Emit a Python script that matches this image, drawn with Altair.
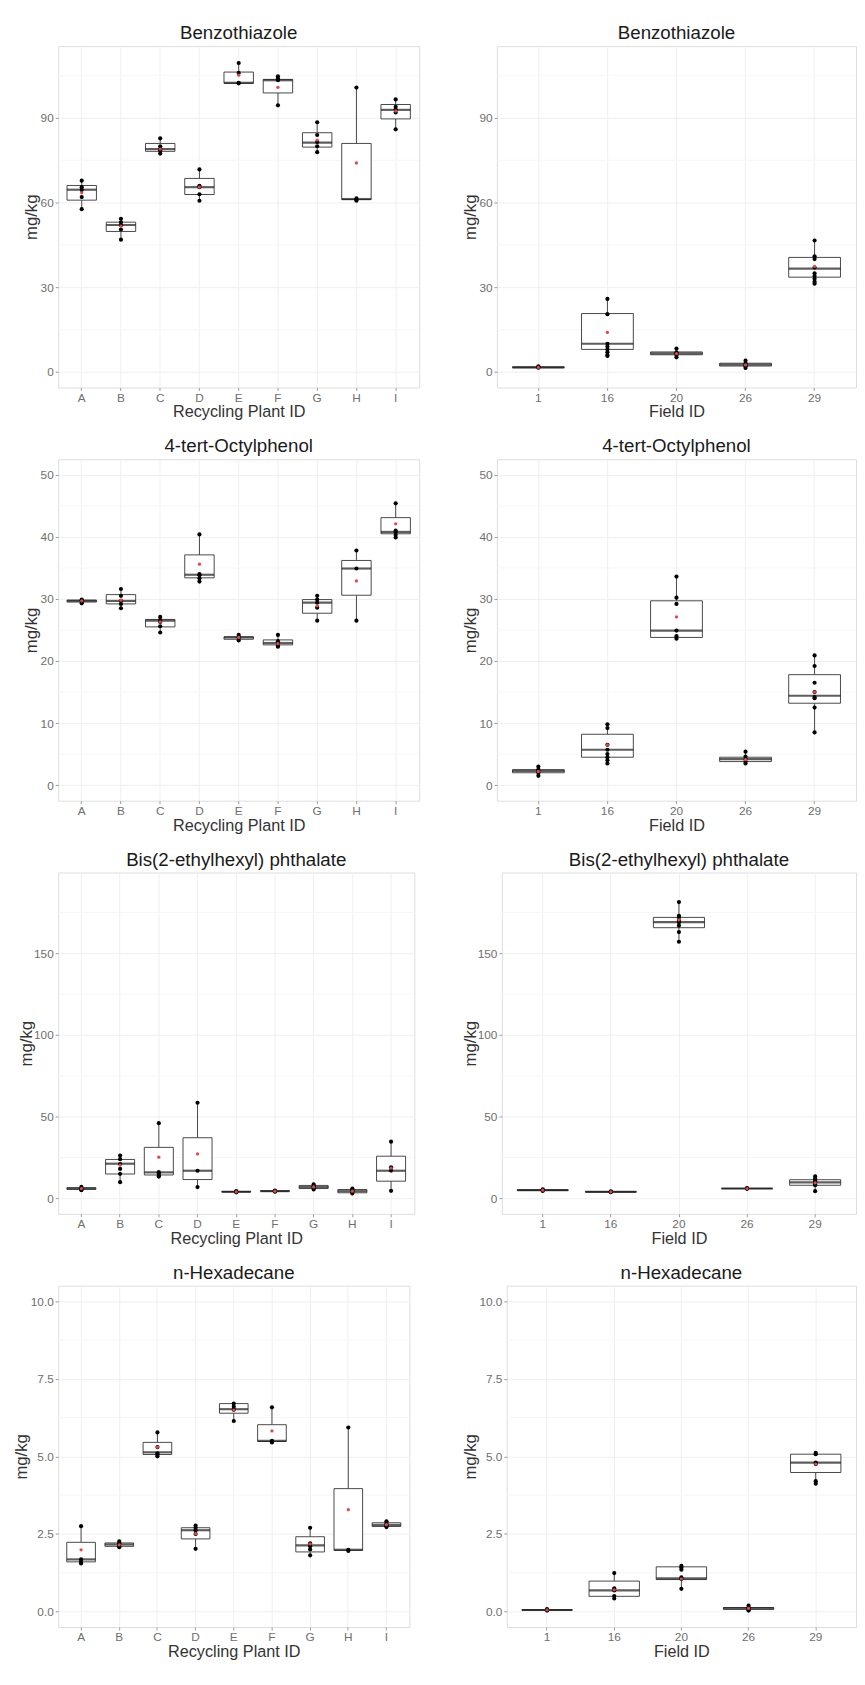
import altair as alt
import pandas as pd

FONT = "Liberation Sans"

plant_ids = ["A", "B", "C", "D", "E", "F", "G", "H", "I"]
field_ids = ["1", "16", "20", "26", "29"]

# ---------------- Benzothiazole ----------------
bt_plant_lo = [57.7, 46.9, 77.4, 60.7, 102.3, 94.5, 77.9, 60.7, 86.0]
bt_plant_q1 = [60.9, 49.8, 78.2, 62.9, 102.3, 98.9, 79.7, 61.1, 89.7]
bt_plant_med = [64.6, 52.1, 79.0, 65.5, 102.5, 103.4, 81.3, 61.3, 92.9]
bt_plant_q3 = [66.1, 53.1, 81.0, 68.6, 106.3, 103.7, 84.8, 81.0, 94.8]
bt_plant_hi = [67.8, 54.3, 82.8, 71.8, 109.5, 104.8, 88.5, 100.8, 96.6]
bt_plant_mean = [63.5, 51.7, 79.0, 65.5, 105.2, 100.9, 82.2, 74.1, 92.5]
bt_plant_pts = [
    [67.8, 65.5, 64.5, 62.0, 57.7],
    [54.3, 53.0, 52.0, 50.5, 46.9],
    [82.8, 80.0, 79.0, 78.5, 77.4],
    [71.8, 66.0, 65.5, 63.0, 60.7],
    [109.5, 106.0, 102.5, 102.3],
    [104.8, 104.0, 103.4, 94.5],
    [88.5, 84.0, 81.5, 80.0, 77.9],
    [100.8, 61.5, 61.0, 60.7],
    [96.6, 94.0, 93.0, 92.0, 86.0],
]
bt_field_lo = [1.4, 5.7, 5.2, 1.4, 31.3]
bt_field_q1 = [1.5, 8.0, 6.1, 2.1, 33.6]
bt_field_med = [1.6, 10.0, 6.6, 2.6, 36.6]
bt_field_q3 = [1.8, 20.7, 7.1, 3.1, 40.6]
bt_field_hi = [2.0, 25.9, 8.3, 4.0, 46.6]
bt_field_mean = [1.6, 14.0, 6.5, 2.5, 37.4]
bt_field_pts = [
    [2.0, 1.7, 1.5],
    [25.9, 20.5, 10.0, 9.0, 8.0, 7.0, 6.0, 5.7],
    [8.3, 7.0, 6.6, 6.0, 5.2],
    [4.0, 3.0, 2.5, 2.0, 1.4],
    [46.6, 41.0, 40.0, 37.0, 35.0, 34.0, 33.0, 32.0, 31.3],
]

# ---------------- 4-tert-Octylphenol ----------------
op_plant_lo = [29.3, 28.5, 24.6, 32.8, 23.3, 22.3, 26.5, 26.5, 39.9]
op_plant_q1 = [29.5, 29.2, 25.5, 33.4, 23.5, 22.6, 27.7, 30.6, 40.5]
op_plant_med = [29.7, 29.7, 26.5, 33.9, 23.8, 22.9, 29.4, 34.9, 40.8]
op_plant_q3 = [29.8, 30.7, 26.7, 37.1, 23.9, 23.4, 29.9, 36.2, 43.1]
op_plant_hi = [29.9, 31.6, 27.1, 40.4, 24.2, 24.2, 30.5, 37.8, 45.4]
op_plant_mean = [29.7, 29.8, 26.3, 35.6, 23.8, 22.8, 28.9, 32.9, 42.1]
op_plant_pts = [
    [29.9, 29.7, 29.5, 29.3],
    [31.6, 30.5, 29.7, 29.2, 28.5],
    [27.1, 26.6, 26.3, 25.6, 24.6],
    [40.4, 34.0, 33.8, 33.3, 32.8],
    [24.2, 23.9, 23.7, 23.3],
    [24.2, 23.2, 22.9, 22.5, 22.3],
    [30.5, 29.9, 29.4, 28.6, 26.5],
    [37.8, 34.9, 26.5],
    [45.4, 41.0, 40.8, 40.3, 39.9],
]
op_field_lo = [1.5, 3.5, 23.6, 3.5, 8.5]
op_field_q1 = [2.0, 4.5, 23.8, 3.8, 13.2]
op_field_med = [2.3, 5.7, 24.9, 4.2, 14.4]
op_field_q3 = [2.5, 8.2, 29.7, 4.5, 17.8]
op_field_hi = [3.0, 9.8, 33.6, 5.4, 20.9]
op_field_mean = [2.2, 6.5, 27.1, 4.1, 15.0]
op_field_pts = [
    [3.0, 2.5, 2.3, 2.0, 1.5],
    [9.8, 9.2, 6.5, 5.7, 5.0, 4.5, 4.0, 3.5],
    [33.6, 30.2, 29.2, 24.9, 24.0, 23.6],
    [5.4, 4.6, 4.2, 3.8, 3.5],
    [20.9, 19.2, 16.5, 15.0, 14.2, 14.0, 12.5, 8.5],
]

# ---------------- Bis(2-ethylhexyl) phthalate ----------------
dehp_plant_lo = [5.0, 9.9, 13.3, 6.9, 3.7, 4.1, 5.4, 3.0, 4.6]
dehp_plant_q1 = [5.5, 14.9, 14.3, 11.5, 3.9, 4.3, 6.0, 3.4, 10.5]
dehp_plant_med = [6.0, 21.2, 15.9, 16.9, 4.0, 4.4, 6.9, 4.4, 16.9]
dehp_plant_q3 = [6.5, 23.8, 31.2, 37.1, 4.2, 4.6, 7.9, 5.4, 25.8]
dehp_plant_hi = [7.0, 26.2, 46.0, 58.5, 4.5, 4.8, 8.5, 6.0, 34.7]
dehp_plant_mean = [6.0, 20.4, 25.2, 27.2, 4.0, 4.4, 7.0, 4.4, 18.5]
dehp_plant_pts = [
    [7.0, 6.0, 5.5, 5.0],
    [26.2, 24.0, 21.0, 18.0, 15.0, 9.9],
    [46.0, 16.0, 15.0, 14.0, 13.3],
    [58.5, 16.9, 6.9],
    [4.5, 4.0, 3.7],
    [4.8, 4.4, 4.1],
    [8.5, 7.5, 7.0, 6.5, 5.4],
    [6.0, 5.0, 4.4, 4.0, 3.0],
    [34.7, 19.0, 17.0, 4.6],
]
dehp_field_lo = [4.5, 3.8, 157.1, 5.8, 4.4]
dehp_field_q1 = [4.8, 3.9, 165.7, 5.9, 8.0]
dehp_field_med = [5.0, 4.0, 169.1, 6.0, 9.8]
dehp_field_q3 = [5.2, 4.1, 172.0, 6.1, 11.4]
dehp_field_hi = [5.5, 4.3, 181.4, 6.3, 13.4]
dehp_field_mean = [5.0, 4.0, 170.5, 6.0, 9.5]
dehp_field_pts = [
    [5.5, 5.0, 4.5],
    [4.3, 4.0, 3.8],
    [181.4, 173.0, 172.0, 170.0, 169.0, 167.0, 163.0, 157.1],
    [6.3, 6.0, 5.8],
    [13.4, 12.0, 11.0, 10.0, 9.5, 8.5, 8.0, 4.4],
]

# ---------------- n-Hexadecane ----------------
hx_plant_lo = [1.55, 2.07, 5.00, 2.02, 6.14, 5.45, 1.81, 1.95, 2.72]
hx_plant_q1 = [1.60, 2.10, 5.06, 2.34, 6.39, 5.48, 1.92, 1.97, 2.74]
hx_plant_med = [1.68, 2.16, 5.13, 2.62, 6.52, 5.50, 2.13, 1.99, 2.79]
hx_plant_q3 = [2.23, 2.21, 5.45, 2.70, 6.70, 6.02, 2.41, 3.96, 2.86]
hx_plant_hi = [2.75, 2.26, 5.77, 2.77, 6.70, 6.58, 2.70, 5.93, 2.91]
hx_plant_mean = [1.99, 2.15, 5.30, 2.51, 6.49, 5.82, 2.18, 3.28, 2.80]
hx_plant_pts = [
    [2.75, 1.68, 1.60, 1.55],
    [2.26, 2.20, 2.15, 2.10, 2.07],
    [5.77, 5.30, 5.10, 5.05, 5.00],
    [2.77, 2.70, 2.62, 2.50, 2.02],
    [6.70, 6.60, 6.50, 6.14],
    [6.58, 5.50, 5.45],
    [2.70, 2.20, 2.10, 2.00, 1.81],
    [5.93, 1.99, 1.95],
    [2.91, 2.85, 2.80, 2.75, 2.72],
]
hx_field_lo = [0.03, 0.42, 0.73, 0.03, 4.12]
hx_field_q1 = [0.04, 0.49, 1.03, 0.07, 4.48]
hx_field_med = [0.05, 0.68, 1.07, 0.10, 4.80]
hx_field_q3 = [0.06, 0.98, 1.44, 0.13, 5.07]
hx_field_hi = [0.08, 1.24, 1.47, 0.19, 5.11]
hx_field_mean = [0.05, 0.70, 1.05, 0.10, 4.75]
hx_field_pts = [
    [0.08, 0.05, 0.03],
    [1.24, 0.75, 0.68, 0.50, 0.42],
    [1.47, 1.42, 1.35, 1.10, 1.05, 0.73],
    [0.19, 0.12, 0.10, 0.05, 0.03],
    [5.11, 5.07, 4.80, 4.75, 4.20, 4.12],
]

# axis settings per compound
bt_domain, bt_major, bt_minor, bt_fmt = [-5.5, 115.5], [0, 30, 60, 90], [15, 45, 75, 105], "d"
op_domain, op_major, op_minor, op_fmt = [-2.5, 52.5], [0, 10, 20, 30, 40, 50], [5, 15, 25, 35, 45], "d"
dehp_domain, dehp_major, dehp_minor, dehp_fmt = [-9.5, 199.5], [0, 50, 100, 150], [25, 75, 125, 175], "d"
hx_domain, hx_major, hx_minor, hx_fmt = [-0.5, 10.5], [0, 2.5, 5, 7.5, 10], [1.25, 3.75, 6.25, 8.75], ".1f"

BOX_COL = "#333333"
PLOT_H = 347


def panel(title, cats, lo, q1, med, q3, hi, mean, pts, domain, major, minor, fmt, xtitle,
          width, yext, height=PLOT_H):
    stats = pd.DataFrame({"cat": cats, "lo": lo, "q1": q1, "med": med, "q3": q3, "hi": hi, "mean": mean})
    prow = [{"cat": c, "val": v} for c, vals in zip(cats, pts) for v in vals]
    pdf = pd.DataFrame(prow)
    mdf = pd.DataFrame({"m": minor})

    n = len(cats)
    step = width / (n + 0.2)
    band = step * 0.75

    xs = alt.Scale(domain=cats, paddingInner=0.25, paddingOuter=0.225)
    xax = alt.Axis(
        title=xtitle, labelAngle=0, bandPosition=0.5, grid=True, gridColor="#efefef",
        gridWidth=1, domain=False, tickColor="#9a9a9a", tickSize=3, labelColor="#6e6e6e",
        labelFont=FONT, labelFontSize=12, labelPadding=2, titleFont=FONT, titleFontSize=16.5,
        titleFontWeight="normal", titleColor="#333333", titlePadding=1,
    )
    ys = alt.Scale(domain=domain, nice=False, zero=False)
    yax = alt.Axis(
        title="mg/kg", values=major, format=fmt, grid=True, gridColor="#efefef", gridWidth=1,
        domain=False, tickColor="#9a9a9a", tickSize=3, labelColor="#6e6e6e", labelFont=FONT,
        labelFontSize=12, labelPadding=2, titleFont=FONT, titleFontSize=17,
        titleFontWeight="normal", titleColor="#333333", titlePadding=0,
        minExtent=yext, maxExtent=yext,
    )

    def X():
        return alt.X("cat:N", scale=xs, axis=xax, sort=cats)

    def Y(f):
        return alt.Y(f + ":Q", scale=ys, axis=yax)

    minor_layer = alt.Chart(mdf).mark_rule(color="#f6f6f6", strokeWidth=1).encode(
        y=alt.Y("m:Q", scale=ys, axis=yax)
    )
    wlow = alt.Chart(stats).mark_rule(color=BOX_COL, strokeWidth=0.9).encode(
        x=X(), y=Y("lo"), y2="q1"
    )
    whigh = alt.Chart(stats).mark_rule(color=BOX_COL, strokeWidth=0.9).encode(
        x=X(), y=Y("q3"), y2="hi"
    )
    box = alt.Chart(stats).mark_bar(fill="white", stroke=BOX_COL, strokeWidth=0.9).encode(
        x=X(), y=Y("q1"), y2="q3"
    )
    medl = alt.Chart(stats).mark_tick(color="#1a1a1a", thickness=2.2, size=band).encode(
        x=X(), y=Y("med")
    )
    points = alt.Chart(pdf).mark_circle(color="black", size=18, opacity=1).encode(
        x=X(), y=Y("val")
    )
    means = alt.Chart(stats).mark_circle(color="#e0474c", size=11, opacity=1).encode(
        x=X(), y=Y("mean")
    )
    return alt.layer(minor_layer, wlow, whigh, box, medl, points, means).properties(
        width=width, height=height,
        title=alt.TitleParams(text=title, font=FONT, fontSize=19, fontWeight="normal",
                              color="#1a1a1a", anchor="middle", offset=3),
    )


PX = "Recycling Plant ID"
FX = "Field ID"

panels = [
    panel("Benzothiazole", plant_ids, bt_plant_lo, bt_plant_q1, bt_plant_med, bt_plant_q3,
          bt_plant_hi, bt_plant_mean, bt_plant_pts, bt_domain, bt_major, bt_minor, bt_fmt, PX, 367, 18),
    panel("Benzothiazole", field_ids, bt_field_lo, bt_field_q1, bt_field_med, bt_field_q3,
          bt_field_hi, bt_field_mean, bt_field_pts, bt_domain, bt_major, bt_minor, bt_fmt, FX, 365, 18),
    panel("4-tert-Octylphenol", plant_ids, op_plant_lo, op_plant_q1, op_plant_med, op_plant_q3,
          op_plant_hi, op_plant_mean, op_plant_pts, op_domain, op_major, op_minor, op_fmt, PX, 367, 18),
    panel("4-tert-Octylphenol", field_ids, op_field_lo, op_field_q1, op_field_med, op_field_q3,
          op_field_hi, op_field_mean, op_field_pts, op_domain, op_major, op_minor, op_fmt, FX, 365, 18),
    panel("Bis(2-ethylhexyl) phthalate", plant_ids, dehp_plant_lo, dehp_plant_q1, dehp_plant_med,
          dehp_plant_q3, dehp_plant_hi, dehp_plant_mean, dehp_plant_pts, dehp_domain, dehp_major,
          dehp_minor, dehp_fmt, PX, 362, 23),
    panel("Bis(2-ethylhexyl) phthalate", field_ids, dehp_field_lo, dehp_field_q1, dehp_field_med,
          dehp_field_q3, dehp_field_hi, dehp_field_mean, dehp_field_pts, dehp_domain, dehp_major,
          dehp_minor, dehp_fmt, FX, 360, 23),
    panel("n-Hexadecane", plant_ids, hx_plant_lo, hx_plant_q1, hx_plant_med, hx_plant_q3,
          hx_plant_hi, hx_plant_mean, hx_plant_pts, hx_domain, hx_major, hx_minor, hx_fmt, PX, 357, 28),
    panel("n-Hexadecane", field_ids, hx_field_lo, hx_field_q1, hx_field_med, hx_field_q3,
          hx_field_hi, hx_field_mean, hx_field_pts, hx_domain, hx_major, hx_minor, hx_fmt, FX, 355, 28),
]

chart = alt.concat(
    *panels, columns=2, align={"row": "all", "column": "none"},
    spacing={"row": 16, "column": 41},
).properties(
    padding={"left": 4, "top": 2, "right": 0, "bottom": 0}
).configure_view(stroke="#c8c8c8", strokeWidth=1).configure(background="white")

chart.save("out.html", embed_options={"renderer": "svg", "actions": False})
